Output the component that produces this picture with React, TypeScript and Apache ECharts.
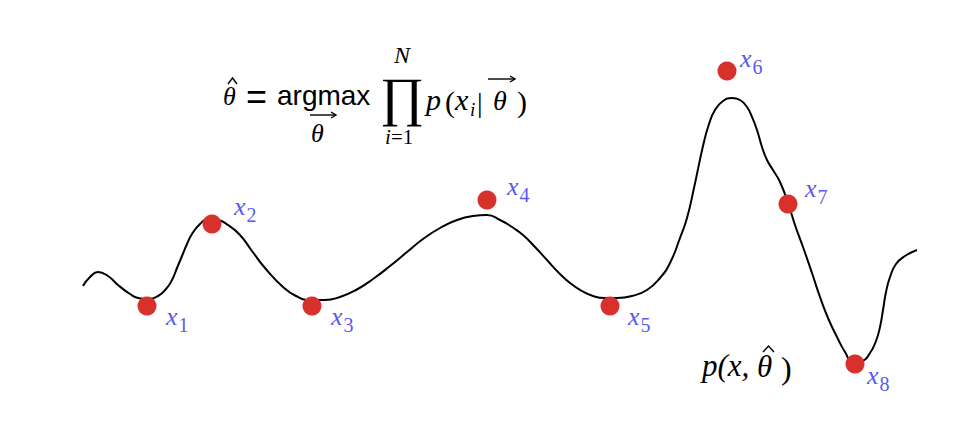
import { useEffect, useRef } from "react";
import * as echarts from "echarts";

// Density curve p(x, θ̂): x position and height
const curveX = [83, 90, 98, 108, 118, 130, 138, 147, 158, 166, 172, 177, 182, 187, 192, 200, 208, 218, 228, 240, 252, 265, 283, 296, 310, 325, 340, 356, 373, 390, 407, 423, 440, 457, 473, 487, 500, 512, 523, 535, 547, 558, 570, 582, 593, 605, 617, 632, 647, 660, 670, 680, 687, 694, 703, 709, 715, 723, 732, 740, 747, 752, 757, 762, 767, 773, 780, 788, 795, 803, 812, 820, 828, 837, 845, 853, 862, 870, 876, 880, 883, 886, 890, 896, 905, 917];
const curveY = [141, 150, 155, 151, 142, 133, 129, 128, 131, 138, 147, 159, 171, 183, 193, 203, 208, 207, 202, 192, 176, 159, 140, 131, 127, 127, 130, 137, 148, 161, 175, 188, 199, 207, 211, 212, 207, 200, 192, 180, 167, 155, 144, 136, 131, 129, 129, 131, 137, 149, 164, 189, 209, 239, 281, 303, 317, 326, 329, 327, 320, 310, 297, 280, 267, 257, 245, 224, 202, 180, 154, 130, 109, 90, 75, 65, 66, 74, 86, 100, 117, 135, 150, 163, 171, 177];

// Samples x1..x8
const pointX = [147, 212, 312, 487, 610, 727, 788, 855];
const pointY = [121, 203, 121, 227, 121, 356, 223, 63];
const pointLabels = ["1", "2", "3", "4", "5", "6", "7", "8"];

// Label placement relative to each dot (layout only)
const LABEL_OFFSETS = [[19, 10], [22, -18], [19, 10], [20, -14], [18, 10], [13, -13], [17, -16], [12, 11]];

const SERIF = '"Liberation Serif", "Times New Roman", serif';
const SANS = '"Liberation Sans", Helvetica, Arial, sans-serif';
const BLUE = "#5a5aee";
const RED = "#d8302a";

function txt(text: string, left: number, baseline: number, fs: number, italic: boolean, family: string) {
  return {
    type: "text",
    x: left,
    y: baseline - 0.34 * fs,
    silent: true,
    style: {
      text,
      fill: "#000",
      font: `${italic ? "italic " : ""}${fs}px ${family}`,
      align: "left",
      verticalAlign: "middle",
      textAlign: "left",
      textVerticalAlign: "middle",
    },
  };
}

function poly(points: number[][], width = 1.4) {
  return {
    type: "polyline",
    silent: true,
    shape: { points },
    style: { stroke: "#000", lineWidth: width, fill: "none" },
  };
}

function arrow(x1: number, x2: number, y: number) {
  return [
    { type: "line", silent: true, shape: { x1, y1: y, x2, y2: y }, style: { stroke: "#000", lineWidth: 1.4 } },
    poly([[x2 - 5, y - 3], [x2, y], [x2 - 5, y + 3]], 1.4),
  ];
}

export default function App() {
  const ref = useRef<HTMLDivElement>(null);

  useEffect(() => {
    document.body.style.margin = "0";
    const chart = echarts.init(ref.current!, null, { renderer: "svg" });

    const graphic: any[] = [
      // θ̂ = argmax_θ ∏_{i=1}^{N} p(x_i | θ)
      txt("θ", 223, 105, 26, true, SERIF),
      poly([[228, 84], [232.5, 78], [237, 84]]),
      txt("=", 246, 108.5, 36, false, SANS),
      txt("argmax", 277, 105, 28, false, SANS),
      txt("θ", 311, 142, 26, true, SERIF),
      ...arrow(310, 336, 115),
      txt("∏", 380, 115, 54, false, SERIF),
      txt("N", 394, 63, 24, true, SERIF),
      txt("i", 385, 144, 21, true, SERIF),
      txt("=1", 391, 144, 21, false, SERIF),
      txt("p", 426, 110, 30, true, SERIF),
      txt("(", 445, 112, 30, false, SERIF),
      txt("x", 455, 110, 30, true, SERIF),
      txt("i", 470, 116, 19, true, SERIF),
      txt("|", 477, 112, 28, false, SERIF),
      txt("θ", 493, 110, 28, true, SERIF),
      ...arrow(488, 515, 79),
      txt(")", 517, 112, 30, false, SERIF),
      // p(x, θ̂)
      txt("p(x,", 702, 376, 31, true, SERIF),
      txt("θ", 757, 377, 31, true, SERIF),
      poly([[763, 352], [768.5, 346], [774, 352]]),
      txt(")", 781, 379, 32, false, SERIF),
    ];

    chart.setOption({
      animation: false,
      grid: { left: 0, right: 0, top: 0, bottom: 0 },
      xAxis: { type: "value", min: 0, max: 966, show: false },
      yAxis: { type: "value", min: 0, max: 427, show: false },
      series: [
        {
          type: "line",
          data: curveX.map((x, i) => [x, curveY[i]]),
          smooth: 0.5,
          showSymbol: false,
          silent: true,
          lineStyle: { color: "#000", width: 2 },
          z: 2,
        },
        {
          type: "scatter",
          symbol: "circle",
          symbolSize: 19,
          itemStyle: { color: RED, opacity: 1 },
          z: 3,
          label: {
            show: true,
            position: "inside",
            align: "left",
            verticalAlign: "middle",
            color: BLUE,
            formatter: (p: any) => `{a|x}{b|${p.name}}`,
            rich: {
              a: { fontFamily: SERIF, fontStyle: "italic", fontSize: 26, color: BLUE },
              b: { fontFamily: SERIF, fontSize: 20, color: BLUE, padding: [18, 0, 0, 1] },
            },
          },
          data: pointX.map((x, i) => ({
            value: [x, pointY[i]],
            name: pointLabels[i],
            label: { offset: LABEL_OFFSETS[i] },
          })),
        },
      ],
      graphic,
    });

    return () => chart.dispose();
  }, []);

  return <div ref={ref} style={{ width: 966, height: 427 }} />;
}
